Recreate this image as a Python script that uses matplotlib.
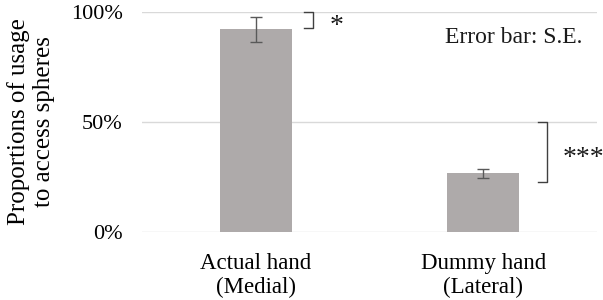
import matplotlib
matplotlib.use("Agg")
import matplotlib.pyplot as plt
from matplotlib.ticker import FuncFormatter

categories = ["Actual hand\n(Medial)", "Dummy hand\n(Lateral)"]
proportions = [92.1, 26.6]
se = [5.7, 1.9]
yticks = [0, 50, 100]

# significance brackets: (x position, y bottom, y top, label)
brackets = [
    (0.253, 92.7, 100.0, "*"),
    (1.28, 22.7, 50.0, "***"),
]

plt.rcParams["font.family"] = ["Liberation Serif", "DejaVu Serif"]

fig = plt.figure(figsize=(6.03, 3.0), dpi=100)
ax = fig.add_axes([0.2355, 0.2267, 0.7545, 0.7333])

x = list(range(len(categories)))
ax.bar(x, proportions, width=0.317, color="#aeaaaa", zorder=2)
ax.errorbar(x, proportions, yerr=se, fmt="none", ecolor="#595959",
            elinewidth=1.0, capsize=4, capthick=1.0, zorder=3)

ax.set_xlim(-0.5, 1.5)
ax.set_ylim(0, 100)
ax.set_yticks(yticks)
ax.yaxis.set_major_formatter(FuncFormatter(lambda v, _: f"{v:.0f}%"))
ax.set_xticks(x)
ax.set_xticklabels(categories, fontsize=16.5, linespacing=1.2)
ax.tick_params(axis="y", labelsize=16, length=0, pad=14)
ax.tick_params(axis="x", length=0, pad=15)
ax.grid(axis="y", color="#d9d9d9", linewidth=1.0, zorder=0)
for s in ax.spines.values():
    s.set_visible(False)

ax.set_ylabel("Proportions of usage\nto access spheres", fontsize=18,
              linespacing=1.2, labelpad=11)

tick = 0.04
for bx, y0, y1, lab in brackets:
    ax.plot([bx - tick, bx, bx, bx - tick], [y1, y1, y0, y0],
            color="#404040", linewidth=1.0, clip_on=False, zorder=4)
    ax.text(bx + 0.07, (y0 + y1) / 2 - 3, lab, fontsize=20, ha="left",
            va="center", color="#1a1a1a")

ax.text(0.967, 0.885, "Error bar: S.E.", transform=ax.transAxes,
        fontsize=17, ha="right", va="center", color="#1a1a1a")

fig.savefig("out.png", dpi=100)
